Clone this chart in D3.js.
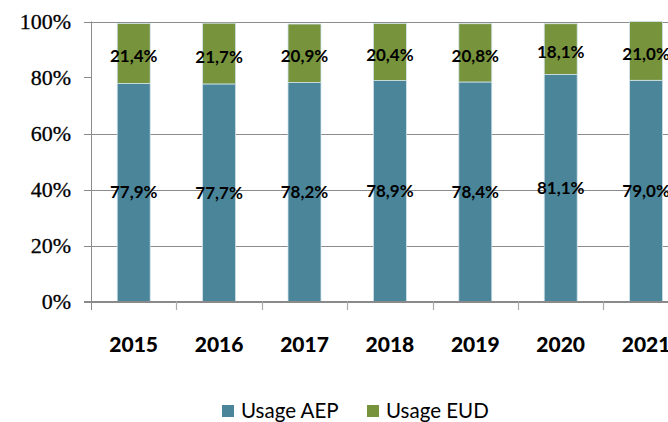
<!DOCTYPE html>
<html>
<head>
<meta charset="utf-8">
<script src="https://cdn.jsdelivr.net/npm/d3@7"></script>
<style>
  html, body { margin: 0; padding: 0; background: #fff; }
  svg { display: block; }
</style>
</head>
<body>
<svg id="chart" width="668" height="422"></svg>
<script>
const years = ["2015", "2016", "2017", "2018", "2019", "2020", "2021"];
const usageAEP = [77.9, 77.7, 78.2, 78.9, 78.4, 81.1, 79.0];
const usageEUD = [21.4, 21.7, 20.9, 20.4, 20.8, 18.1, 21.0];
const seriesNames = ["Usage AEP", "Usage EUD"];
const yTicks = [0, 20, 40, 60, 80, 100];
const yTickLabels = ["0%", "20%", "40%", "60%", "80%", "100%"];
const gridValues = [20, 40, 60, 100];

const colors = { aep: "#4a8599", eud: "#77933c", edge: "#d0e3ea", grid: "#8c8c8c", axis: "#8a8a8a" };

const svg = d3.select("#chart");

const x = d3.scaleBand().domain(years).range([91, 688.8]).paddingInner(0.614).paddingOuter(0.307);
const xBounds = d3.scaleLinear().domain([0, years.length]).range([91, 688.8]);
const y = d3.scaleLinear().domain([0, 100]).range([301.5, 21.5]);

// gridlines
svg.append("g").selectAll("line").data(gridValues).join("line")
  .attr("x1", 91).attr("x2", 668)
  .attr("y1", d => Math.round(y(d)) + 0.5).attr("y2", d => Math.round(y(d)) + 0.5)
  .attr("stroke", colors.grid).attr("stroke-width", 1);

const data = years.map((yr, i) => ({ yr, aep: usageAEP[i], eud: usageEUD[i] }));

// bars
const bars = svg.append("g");
bars.selectAll("rect.aep").data(data).join("rect")
  .attr("class", "aep")
  .attr("x", d => x(d.yr)).attr("width", x.bandwidth())
  .attr("y", d => y(d.aep)).attr("height", d => y(0) - y(d.aep))
  .attr("fill", colors.aep).attr("stroke", colors.edge).attr("stroke-width", 0.8);
bars.selectAll("rect.eud").data(data).join("rect")
  .attr("class", "eud")
  .attr("x", d => x(d.yr)).attr("width", x.bandwidth())
  .attr("y", d => y(d.aep + d.eud)).attr("height", d => y(d.aep) - y(d.aep + d.eud))
  .attr("fill", colors.eud).attr("stroke", colors.edge).attr("stroke-width", 0.8);

// y axis line
svg.append("line").attr("x1", 91.5).attr("x2", 91.5).attr("y1", y(100)).attr("y2", 310)
  .attr("stroke", colors.axis).attr("stroke-width", 1);
// y tick marks
svg.append("g").selectAll("line").data(yTicks).join("line")
  .attr("x1", 84).attr("x2", 91)
  .attr("y1", d => Math.round(y(d)) + 0.5).attr("y2", d => Math.round(y(d)) + 0.5)
  .attr("stroke", colors.axis);
// y tick labels
svg.append("g").selectAll("text").data(yTicks).join("text")
  .attr("x", 71).attr("y", d => y(d) + 7.5)
  .attr("text-anchor", "end")
  .attr("font-family", "'Liberation Serif', 'DejaVu Serif', serif")
  .attr("font-size", 22).attr("fill", "#000")
  .attr("stroke", "#000").attr("stroke-width", 0.3)
  .text((d, i) => yTickLabels[i]);

// x axis
svg.append("line").attr("x1", 84).attr("x2", 668).attr("y1", y(0) + 0.5).attr("y2", y(0) + 0.5)
  .attr("stroke", colors.axis).attr("stroke-width", 2);
svg.append("g").selectAll("line").data(d3.range(1, years.length)).join("line")
  .attr("x1", d => Math.round(xBounds(d)) + 0.5).attr("x2", d => Math.round(xBounds(d)) + 0.5)
  .attr("y1", y(0)).attr("y2", 310)
  .attr("stroke", "#aaa").attr("stroke-width", 1.2);
svg.append("g").selectAll("text").data(years).join("text")
  .attr("x", d => x(d) + x.bandwidth() / 2).attr("y", 352)
  .attr("text-anchor", "middle")
  .attr("font-family", "Lato, 'Open Sans', sans-serif").attr("font-weight", "900")
  .attr("font-size", 21).attr("fill", "#000")
  .text(d => d);

// value labels
const fmt = v => v.toFixed(1).replace(".", ",") + "%";
const lbl = svg.append("g")
  .attr("font-family", "Lato, 'Open Sans', sans-serif").attr("font-weight", "bold")
  .attr("font-size", 17).attr("fill", "#000").attr("text-anchor", "middle");
lbl.selectAll("text.aep").data(data).join("text")
  .attr("class", "aep")
  .attr("x", d => x(d.yr) + x.bandwidth() / 2)
  .attr("y", d => (y(0) + y(d.aep)) / 2 + 6)
  .text(d => fmt(d.aep));
lbl.selectAll("text.eud").data(data).join("text")
  .attr("class", "eud")
  .attr("x", d => x(d.yr) + x.bandwidth() / 2)
  .attr("y", d => (y(d.aep) + y(d.aep + d.eud)) / 2 + 9)
  .text(d => fmt(d.eud));

// legend
const legendX = [222, 367];
const legendColors = [colors.aep, colors.eud];
const lg = svg.append("g");
lg.selectAll("rect").data(seriesNames).join("rect")
  .attr("x", (d, i) => legendX[i]).attr("y", 405).attr("width", 12).attr("height", 12)
  .attr("fill", (d, i) => legendColors[i]);
lg.selectAll("text").data(seriesNames).join("text")
  .attr("x", (d, i) => legendX[i] + 19).attr("y", 418)
  .attr("font-family", "Lato, 'Open Sans', sans-serif")
  .attr("font-size", 20.5).attr("fill", "#000")
  .text(d => d);
</script>
</body>
</html>
